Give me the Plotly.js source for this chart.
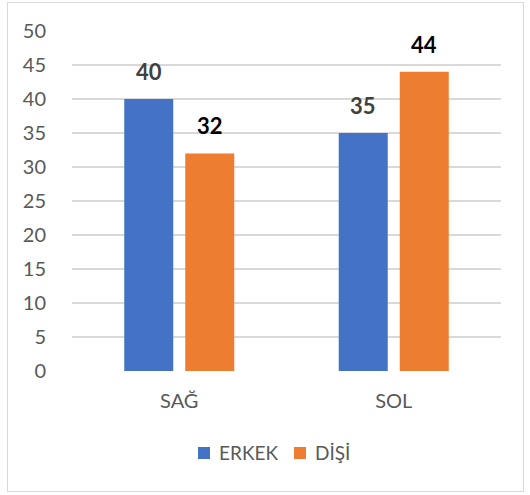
<!DOCTYPE html>
<html><head><meta charset="utf-8">
<script src="https://cdn.plot.ly/plotly-3.0.1.min.js"></script>
<style>
html,body{margin:0;padding:0;background:#fff;}
#frame{position:absolute;left:7px;top:2px;width:515px;height:488px;border:1.5px solid #d9d9d9;}
#chart{position:absolute;left:0;top:0;width:530px;height:495px;}
</style></head>
<body>
<div id="frame"></div>
<div id="chart"></div>
<script>
const categories = ['SAĞ', 'SOL'];
const erkek = [40, 35];
const disi = [32, 44];
const seriesNames = ['ERKEK', 'DİŞİ'];
const seriesColors = ['#4472C4', '#ED7D31'];
const yTicks = [0, 5, 10, 15, 20, 25, 30, 35, 40, 45, 50];

const font = 'Lato, "Open Sans", "Liberation Sans", sans-serif';
const traces = [
  {type:'bar', name:seriesNames[0], x:categories, y:erkek, marker:{color:seriesColors[0]}, hoverinfo:'none'},
  {type:'bar', name:seriesNames[1], x:categories, y:disi, marker:{color:seriesColors[1]}, hoverinfo:'none'}
];
const annotations = [];
categories.forEach((c,i)=>{
  annotations.push({x:c, y:erkek[i], xref:'x', yref:'y', xshift:-30.5, yshift:12, yanchor:'bottom', showarrow:false,
    text:'<b>'+erkek[i]+'</b>', font:{family:font, size:22, color:'#404040'}});
  annotations.push({x:c, y:disi[i], xref:'x', yref:'y', xshift:30.5, yshift:12, yanchor:'bottom', showarrow:false,
    text:'<b>'+disi[i]+'</b>', font:{family:font, size:22, color:'#000000'}});
});
// custom legend (paper coords relative to plot area)
const shapes = [];
const legX = [[0.2937, 0.3217, 0.338], [0.5175, 0.5455, 0.562]];
seriesNames.forEach((n,k)=>{
  shapes.push({type:'rect', xref:'paper', yref:'paper', x0:legX[k][0], x1:legX[k][1], y0:-0.2588, y1:-0.2235,
    fillcolor:seriesColors[k], line:{width:0}});
  annotations.push({xref:'paper', yref:'paper', x:legX[k][2], y:-0.241, xanchor:'left', yanchor:'middle', showarrow:false,
    text:n, font:{family:font, size:19, color:'#595959'}});
});
const layout = {
  width:530, height:495,
  margin:{l:72, r:29, t:31, b:124},
  paper_bgcolor:'rgba(0,0,0,0)', plot_bgcolor:'rgba(0,0,0,0)',
  barmode:'group', bargap:0.431, bargroupgap:0.197,
  font:{family:font, size:19, color:'#595959'},
  showlegend:false,
  xaxis:{type:'category', showgrid:false, showline:false, zeroline:false, ticks:'outside', ticklen:12, tickcolor:'rgba(0,0,0,0)', tickfont:{family:font, size:20, color:'#595959'}},
  yaxis:{range:[0,50], tickvals:yTicks, ticktext:yTicks.map(String), showgrid:true, gridcolor:'#d9d9d9', gridwidth:1.5, zeroline:false, showline:false, ticks:'outside', ticklen:21, tickcolor:'rgba(0,0,0,0)', tickfont:{family:font, size:20, color:'#595959'}},
  annotations:annotations, shapes:shapes
};
Plotly.newPlot('chart', traces, layout, {staticPlot:true, displayModeBar:false});
</script>
</body></html>
